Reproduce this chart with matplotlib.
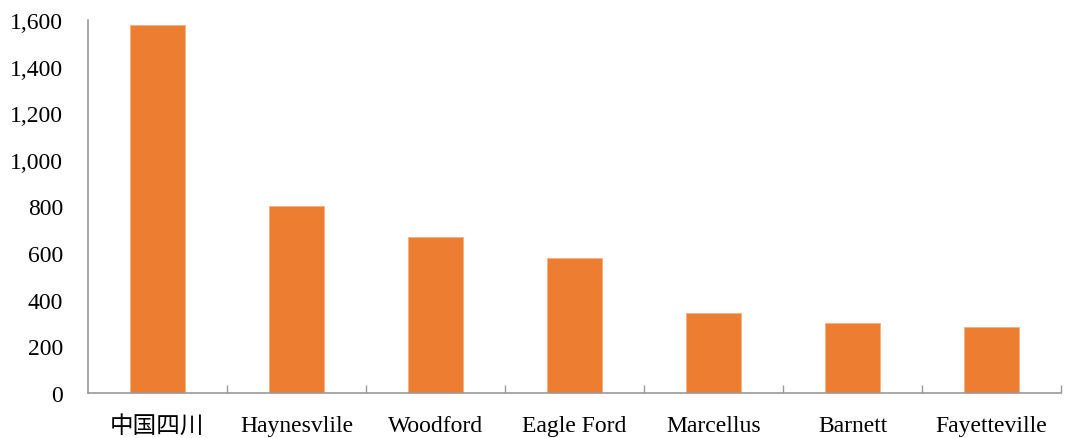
import matplotlib

matplotlib.use("Agg")
import matplotlib.pyplot as plt
from matplotlib.ticker import FuncFormatter

categories = ["中国四川", "Haynesvlile", "Woodford", "Eagle Ford", "Marcellus", "Barnett", "Fayetteville"]
values = [1580, 802, 668, 578, 345, 302, 282]

bar_color = "#ED7D31"
axis_color = "#999999"

fig = plt.figure(figsize=(10.66, 4.39), dpi=100)
ax = fig.add_axes([88 / 1066, 1 - 394 / 439, (1061 - 88) / 1066, (394 - 21) / 439])

x = list(range(len(categories)))
ax.bar(x, values, width=0.4, color=bar_color, edgecolor="#F4B183", linewidth=0.6)

ax.set_xlim(-0.5, len(categories) - 0.5)
ax.set_ylim(0, 1600)
ax.set_yticks(range(0, 1601, 200))
ax.yaxis.set_major_formatter(FuncFormatter(lambda v, _: f"{int(v):,}"))

for s in ("top", "right"):
    ax.spines[s].set_visible(False)
for s in ("left", "bottom"):
    ax.spines[s].set_color(axis_color)
    ax.spines[s].set_linewidth(1.2)

# category boundary ticks pointing up into the plot
ax.set_xticks([i + 0.5 for i in range(len(categories))], minor=True)
ax.tick_params(axis="x", which="minor", direction="in", length=6, color=axis_color, width=1)
ax.set_xticks(x)
ax.set_xticklabels(categories, family=["Liberation Serif", "Noto Sans CJK SC"], fontsize=17)
ax.tick_params(axis="x", which="major", length=0, pad=16)
ax.tick_params(axis="y", length=0, pad=18, labelsize=17)
for lab in ax.get_yticklabels():
    lab.set_family("Liberation Serif")

fig.savefig("out.png", dpi=100, facecolor="white")
